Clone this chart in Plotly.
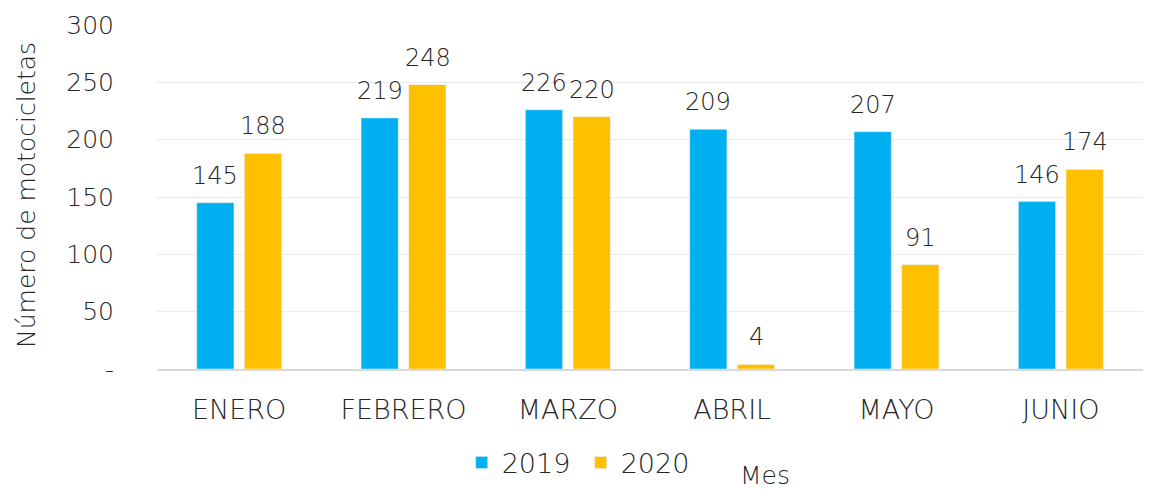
import plotly.graph_objects as go

months = ["ENERO", "FEBRERO", "MARZO", "ABRIL", "MAYO", "JUNIO"]
v2019 = [145, 219, 226, 209, 207, 146]
v2020 = [188, 248, 220, 4, 91, 174]
ytick_vals = [0, 50, 100, 150, 200, 250, 300]
ytick_text = ["-", "50", "100", "150", "200", "250", "300"]

FONT = "DejaVu Sans"
W = 200
TXT = "#262626"

def f(size):
    return dict(size=size, color=TXT, family=FONT, weight=W)

fig = go.Figure()
fig.add_trace(go.Bar(name="2019", x=months, y=v2019, marker_color="#00B0F0"))
fig.add_trace(go.Bar(name="2020", x=months, y=v2020, marker_color="#FFC000"))

annotations = [
    dict(text="Número de motocicletas", xref="paper", yref="paper",
         x=-0.1318, y=0.506, textangle=-90, showarrow=False,
         xanchor="center", yanchor="middle", font=f(25)),
    dict(text="Mes", xref="paper", yref="paper", x=0.6166, y=-0.31,
         showarrow=False, xanchor="center", yanchor="middle", font=f(25)),
]
for vals, dx in ((v2019, -24), (v2020, 24)):
    for m, v in zip(months, vals):
        annotations.append(dict(text=str(v), x=m, y=v, xref="x", yref="y",
                                xshift=dx, yshift=11, showarrow=False,
                                xanchor="center", yanchor="bottom", font=f(24)))

fig.update_layout(
    width=1153, height=491,
    margin=dict(l=149, r=18, t=17, b=130, autoexpand=False),
    plot_bgcolor="white", paper_bgcolor="white",
    barmode="group", bargap=0.42, bargroupgap=0.22,
    font=f(25),
    showlegend=True,
    legend=dict(orientation="h", x=0.309, y=-0.273, xanchor="left", yanchor="middle",
                font=f(27), itemwidth=30, entrywidth=74, entrywidthmode="pixels",
                traceorder="normal"),
    annotations=annotations,
)
fig.update_yaxes(range=[0, 300], tickvals=ytick_vals, ticktext=ytick_text,
                 showgrid=True, gridcolor="#ebebeb", gridwidth=1,
                 zeroline=False, showline=False, ticks="",
                 ticklabelstandoff=42, tickfont=f(25))
fig.update_xaxes(showline=True, linecolor="#d9d9d9", linewidth=2, ticks="",
                 ticklabelstandoff=16, tickfont=f(27))

fig.write_html("out.html")
